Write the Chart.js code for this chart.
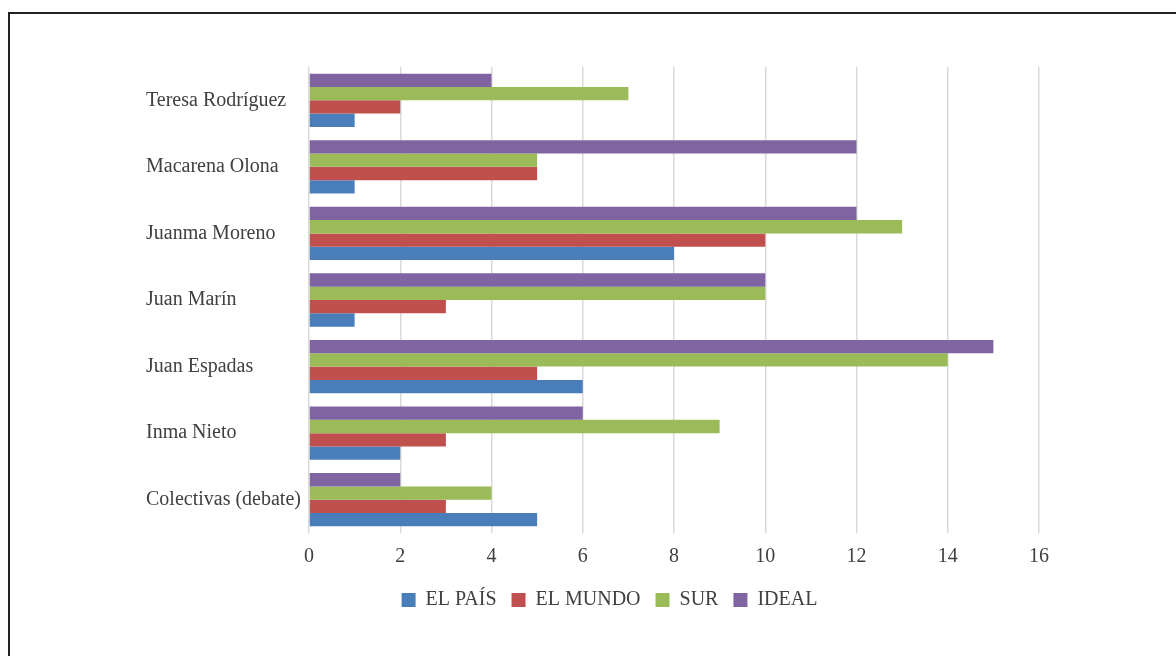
<!DOCTYPE html>
<html>
<head>
<meta charset="utf-8">
<script src="https://cdn.jsdelivr.net/npm/chart.js@4.4.0/dist/chart.umd.min.js"></script>
<style>
  html, body { margin: 0; padding: 0; background: #fff; }
  #wrap { position: relative; width: 1176px; height: 656px; overflow: hidden; }
  #frame {
    position: absolute; left: 8px; top: 12px; right: -4px; bottom: -4px;
    border-top: 2px solid #222; border-left: 2px solid #222;
  }
  #chart { position: absolute; left: 0; top: 0; }
</style>
</head>
<body>
<div id="wrap">
  <div id="frame"></div>
  <canvas id="chart" width="1176" height="656"></canvas>
</div>
<script>
// Candidates, top to bottom
const candidates = [
    'Teresa Rodríguez',
    'Macarena Olona',
    'Juanma Moreno',
    'Juan Marín',
    'Juan Espadas',
    'Inma Nieto',
    'Colectivas (debate)'
];

// Number of items per newspaper
const elPais   = [1, 1, 8, 1, 6, 2, 5];
const elMundo  = [2, 5, 10, 3, 5, 3, 3];
const sur      = [7, 5, 13, 10, 14, 9, 4];
const ideal    = [4, 12, 12, 10, 15, 6, 2];

const xTicks = [0, 2, 4, 6, 8, 10, 12, 14, 16];

const serif = '"Liberation Serif", "Times New Roman", serif';
const textColor = '#404040';

// nudge the legend a bit to the right of the default centre
const legendShift = {
    id: 'legendShift',
    afterLayout(chart) {
        if (chart.legend) {
            chart.legend.left += 17;
            chart.legend.right += 17;
        }
    }
};

const ctx = document.getElementById('chart').getContext('2d');

// Datasets go top-down inside each group, legend is shown reversed
new Chart(ctx, {
    type: 'bar',
    data: {
        labels: candidates,
        datasets: [
            { label: 'IDEAL', data: ideal, backgroundColor: '#8064a2' },
            { label: 'SUR', data: sur, backgroundColor: '#9bbb59' },
            { label: 'EL MUNDO', data: elMundo, backgroundColor: '#c0504d' },
            { label: 'EL PAÍS', data: elPais, backgroundColor: '#4a7ebb' }
        ]
    },
    options: {
        indexAxis: 'y',
        responsive: false,
        animation: false,
        layout: {
            padding: { left: 146, right: 137, top: 67, bottom: 36 }
        },
        datasets: {
            bar: {
                categoryPercentage: 0.8,
                barPercentage: 1.0,
                borderWidth: 0
            }
        },
        scales: {
            x: {
                min: 0,
                max: 16,
                afterBuildTicks: scale => {
                    scale.ticks = xTicks.map(v => ({ value: v }));
                },
                afterFit: scale => { scale.height = 42; },
                grid: {
                    color: '#d9d9d9',
                    lineWidth: 1.5,
                    drawTicks: false
                },
                border: { display: false },
                ticks: {
                    padding: 12,
                    color: textColor,
                    font: { family: serif, size: 20 }
                }
            },
            y: {
                afterFit: scale => { scale.width = 163; },
                grid: { display: false },
                border: { display: false },
                ticks: {
                    crossAlign: 'far',
                    color: textColor,
                    font: { family: serif, size: 20 }
                }
            }
        },
        plugins: {
            legend: {
                position: 'bottom',
                reverse: true,
                labels: {
                    boxWidth: 14,
                    boxHeight: 14,
                    padding: 15,
                    color: textColor,
                    font: { family: serif, size: 20 }
                }
            },
            tooltip: { enabled: false }
        }
    },
    plugins: [legendShift]
});
</script>
</body>
</html>
